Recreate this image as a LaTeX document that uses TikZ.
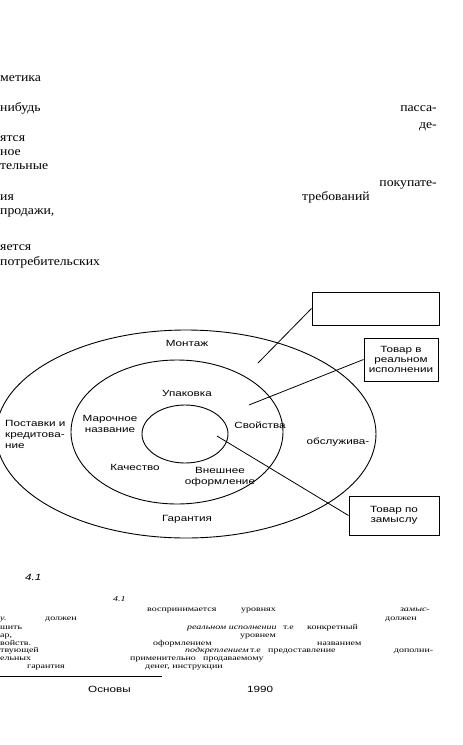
\documentclass[tikz,border=0pt]{standalone}
\usepackage{fontspec}
\setmainfont{Liberation Serif}
\newfontfamily\topfont[FakeStretch=1.1]{Liberation Serif}
\newfontfamily\bodyfont[FakeStretch=1.33]{Liberation Serif}
\newfontfamily\diagfont[FakeStretch=1.3]{Liberation Sans}
\usetikzlibrary{positioning}

\begin{document}
\begin{tikzpicture}[x=1pt,y=-1pt]
   \tikzstyle{toptxt}=[anchor=base west,inner sep=0,font=\topfont\fontsize{12.5}{14}\selectfont]
   \tikzstyle{txt}=[anchor=base west,inner sep=0,font=\bodyfont\fontsize{7.5}{8}\selectfont]
   \tikzstyle{itxt}=[txt,font=\bodyfont\itshape\fontsize{7.5}{8}\selectfont]
   \tikzstyle{lbl}=[inner sep=0,align=center,font=\diagfont\fontsize{9}{11}\selectfont]
   \tikzstyle{tbox}=[draw,line width=1pt,inner sep=0,align=center,font=\diagfont\fontsize{9}{10}\selectfont]
   \tikzstyle{ring}=[line width=0.9pt]
   \tikzstyle{conn}=[line width=0.8pt]

   \useasboundingbox (0,0) rectangle (463,745);

   % text above the figure
   \node (a1) [toptxt] at (0,81) {метика};
   \node (a2) [toptxt] at (0,111) {нибудь};
   \node (a3) [toptxt,anchor=base east] at (437,111) {пасса-};
   \node (a4) [toptxt,anchor=base east] at (437,128) {де-};
   \node (a5) [toptxt] at (0,141) {ятся};
   \node (a6) [toptxt] at (0,155) {ное};
   \node (a7) [toptxt] at (0,169) {тельные};
   \node (a8) [toptxt,anchor=base east] at (437,186) {покупате-};
   \node (a9) [toptxt] at (0,200) {ия};
   \node (a10) [toptxt] at (302,200) {требований};
   \node (a11) [toptxt] at (0,214) {продажи,};
   \node (a12) [toptxt] at (0,250) {яется};
   \node (a13) [toptxt] at (0,265) {потребительских};

   % the three levels
   \draw [ring] (186,434) ellipse [x radius=190,y radius=104];
   \draw [ring] (177,432) ellipse [x radius=106,y radius=72];
   \draw [ring] (185,434) ellipse [x radius=43,y radius=29];

   \node (mont) [lbl] at (187,343) {Монтаж};
   \node (upak) [lbl] at (187,393) {Упаковка};
   \node (marka) [lbl] at (110,424) {Марочное\\название};
   \node (svoj) [lbl] at (260,425) {Свойства};
   \node (post) [lbl,align=left,anchor=west] at (5,434) {Поставки и\\кредитова-\\ние};
   \node (obsl) [lbl] at (338,442) {обслужива-};
   \node (kach) [lbl] at (135,467) {Качество};
   \node (vnesh) [lbl] at (220,477) {Внешнее\\оформление};
   \node (gar) [lbl] at (187,519) {Гарантия};

   \node (b1) [tbox,minimum width=127,minimum height=33] at (375.5,308.5) {};
   \node (b2) [tbox,minimum width=74,minimum height=43] at (401,359.5) {Товар в\\реальном\\исполнении};
   \node (b3) [tbox,minimum width=90,minimum height=39] at (394,515.5) {Товар по\\замыслу};

   \coordinate (p1) at (258,363);
   \coordinate (p2) at (249,405);
   \coordinate (p3) at (217,436);
   \draw [conn] (b1.west) -- (p1);
   \draw [conn] (b2.west) -- (p2);
   \draw [conn] (p3) -- (b3.west);

   % caption and text below
   \node (c1) [lbl,anchor=west,font=\diagfont\itshape\fontsize{9}{11}\selectfont] at (25,577) {4.1};
   \node (c2) [itxt] at (113,601) {4.1};
   \node (r1a) [txt] at (147,611) {воспринимается};
   \node (r1b) [txt] at (241,611) {уровнях};
   \node (r1c) [itxt,anchor=base east] at (430,611) {замыс-};
   \node (r2a) [itxt] at (0,620) {у.};
   \node (r2b) [txt] at (45,620) {должен};
   \node (r2c) [txt] at (385,620) {должен};
   \node (r3a) [txt] at (0,629) {шить};
   \node (r3b) [itxt] at (187,629) {реальном исполнении};
   \node (r3c) [txt] at (283,629) {т.е};
   \node (r3d) [txt] at (307,629) {конкретный};
   \node (r4a) [txt] at (0,637) {ар,};
   \node (r4b) [txt] at (240,637) {уровнем};
   \node (r5a) [txt] at (0,645) {войств.};
   \node (r5b) [txt] at (153,645) {оформлением};
   \node (r5c) [txt] at (317,645) {названием};
   \node (r6a) [txt] at (0,652) {твующей};
   \node (r6b) [itxt] at (185,652) {подкреплением};
   \node (r6c) [txt] at (250,652) {т.е};
   \node (r6d) [txt] at (268,652) {\makebox[165pt][s]{предоставление дополни-}};
   \node (r7a) [txt] at (0,660) {ельных};
   \node (r7b) [txt] at (130,660) {применительно};
   \node (r7c) [txt] at (203,660) {продаваемому};
   \node (r8a) [txt] at (27,668) {гарантия};
   \node (r8b) [txt] at (145,668) {денег, инструкции};

   \draw [line width=0.5pt] (0,676) -- (162,676);
   \node (f1) [lbl,anchor=west] at (88,689) {Основы};
   \node (f2) [lbl,anchor=west] at (247,689) {1990};
\end{tikzpicture}
\end{document}
